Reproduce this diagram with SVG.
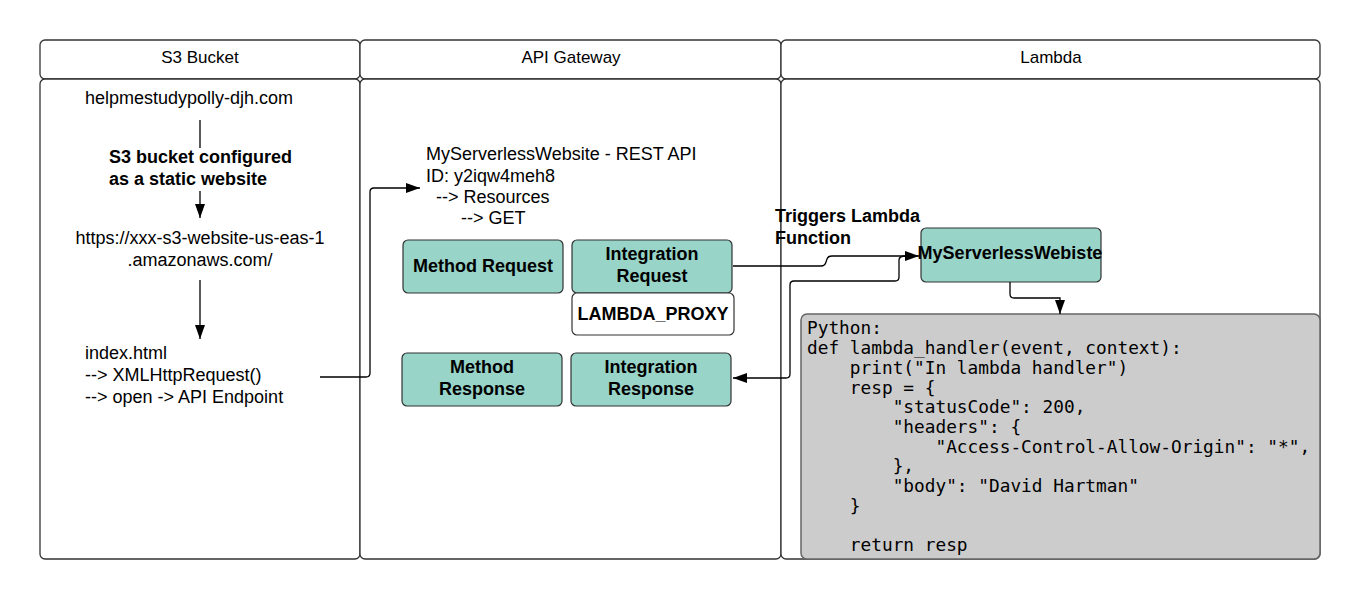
<svg xmlns="http://www.w3.org/2000/svg" width="1361" height="600" viewBox="0 0 1361 600">
<style>
.lane{fill:#fff;stroke:#333;stroke-width:1.3}
.t{font-family:"Liberation Sans",Arial,sans-serif;font-size:18px;fill:#000}
.h{font-family:"Liberation Sans",Arial,sans-serif;font-size:17px;fill:#000}
.b{font-family:"Liberation Sans",Arial,sans-serif;font-size:18px;font-weight:bold;fill:#000}
.c{text-anchor:middle}
.node{fill:#98d4c8;stroke:#333;stroke-width:1.2}
.white{fill:#fff;stroke:#333;stroke-width:1.2}
.code{fill:#cccccc;stroke:#666;stroke-width:1.5}
.mono{font-family:"DejaVu Sans Mono","Liberation Mono",monospace;font-size:17.8px;fill:#000}
.conn{fill:none;stroke:#000;stroke-width:1.3}
</style>
<defs>
<marker id="arr" viewBox="0 0 14 10" refX="14" refY="5" markerWidth="14" markerHeight="10" markerUnits="userSpaceOnUse" orient="auto">
<path d="M0,0 L14,5 L0,10 z" fill="#000"/>
</marker>
</defs>
<rect width="1361" height="600" fill="#fff"/>
<g id="lane-s3">
<rect class="lane" x="40" y="40" width="320" height="39" rx="5"/>
<rect class="lane" x="40" y="79" width="320" height="480" rx="5"/>
<text class="h c" x="200" y="63">S3 Bucket</text>
</g>
<g id="lane-api">
<rect class="lane" x="360" y="40" width="421" height="39" rx="5"/>
<rect class="lane" x="360" y="79" width="421" height="480" rx="5"/>
<text class="h c" x="571" y="63">API Gateway</text>
</g>
<g id="lane-lambda">
<rect class="lane" x="781" y="40" width="539" height="39" rx="5"/>
<rect class="lane" x="781" y="79" width="539" height="480" rx="5"/>
<text class="h c" x="1051" y="63">Lambda</text>
</g>
<g id="s3-domain">
<text class="t" x="85" y="104">helpmestudypolly-djh.com</text>
</g>
<g id="s3-config-label">
<text class="b" x="109" y="163">S3 bucket configured</text>
<text class="b" x="109" y="185">as a static website</text>
</g>
<g id="s3-endpoint">
<text class="t c" x="200" y="244">https://xxx-s3-website-us-eas-1</text>
<text class="t c" x="200" y="266">.amazonaws.com/</text>
</g>
<g id="index-html">
<text class="t" x="85" y="359">index.html</text>
<text class="t" x="85" y="381">--&gt; XMLHttpRequest()</text>
<text class="t" x="85" y="403">--&gt; open -&gt; API Endpoint</text>
</g>
<g id="api-info">
<text class="t" x="426" y="160">MyServerlessWebsite - REST API</text>
<text class="t" x="426" y="182">ID: y2iqw4meh8</text>
<text class="t" x="436" y="203">--&gt; Resources</text>
<text class="t" x="461" y="224">--&gt; GET</text>
</g>
<g id="method-request">
<rect class="node" x="403" y="240" width="160" height="53" rx="5"/>
<text class="b c" x="483" y="272">Method Request</text>
</g>
<g id="integration-request">
<rect class="node" x="572" y="240" width="160" height="53" rx="5"/>
<text class="b c" x="652" y="260">Integration</text>
<text class="b c" x="652" y="282">Request</text>
</g>
<g id="lambda-proxy">
<rect class="white" x="572" y="293" width="162" height="42" rx="5"/>
<text class="b c" x="653" y="320">LAMBDA_PROXY</text>
</g>
<g id="method-response">
<rect class="node" x="402" y="353" width="160" height="53" rx="5"/>
<text class="b c" x="482" y="373">Method</text>
<text class="b c" x="482" y="395">Response</text>
</g>
<g id="integration-response">
<rect class="node" x="571" y="353" width="160" height="53" rx="5"/>
<text class="b c" x="651" y="373">Integration</text>
<text class="b c" x="651" y="395">Response</text>
</g>
<g id="trigger-label">
<text class="b" x="775" y="222">Triggers Lambda</text>
<text class="b" x="775" y="244">Function</text>
</g>
<g id="lambda-function">
<rect class="node" x="921" y="228" width="180" height="54" rx="5"/>
<text class="b c" x="1010" y="259">MyServerlessWebiste</text>
</g>
<g id="code-box">
<rect class="code" x="801" y="314" width="519" height="245" rx="6"/>
<text class="mono" x="807" y="334" xml:space="preserve">Python:</text>
<text class="mono" x="807" y="354" xml:space="preserve">def lambda_handler(event, context):</text>
<text class="mono" x="807" y="374" xml:space="preserve">    print("In lambda handler")</text>
<text class="mono" x="807" y="394" xml:space="preserve">    resp = {</text>
<text class="mono" x="807" y="413" xml:space="preserve">        "statusCode": 200,</text>
<text class="mono" x="807" y="433" xml:space="preserve">        "headers": {</text>
<text class="mono" x="807" y="453" xml:space="preserve">            "Access-Control-Allow-Origin": "*",</text>
<text class="mono" x="807" y="472" xml:space="preserve">        },</text>
<text class="mono" x="807" y="492" xml:space="preserve">        "body": "David Hartman"</text>
<text class="mono" x="807" y="512" xml:space="preserve">    }</text>
<text class="mono" x="807" y="551" xml:space="preserve">    return resp</text>
</g>
<g id="connectors">
<line class="conn" x1="200" y1="120" x2="200" y2="148"/>
<line class="conn" x1="200" y1="191" x2="200" y2="218" marker-end="url(#arr)"/>
<line class="conn" x1="200" y1="280" x2="200" y2="339" marker-end="url(#arr)"/>
<path class="conn" d="M320,377 H366 Q370,377 370,373 V192 Q370,188 374,188 H420" marker-end="url(#arr)"/>
<path class="conn" d="M733,266 H821 Q825,266 826,262 L827,259 Q828,256 832,256 H919" marker-end="url(#arr)"/>
<path class="conn" d="M906,256 Q899,256 899,260 V277 Q899,281 895,281 H794 Q790,281 790,285 V374 Q790,378 786,378 H733" marker-end="url(#arr)"/>
<path class="conn" d="M1010,282 V294 Q1010,298 1014,298 H1060 V314" marker-end="url(#arr)"/>
</g>
</svg>
